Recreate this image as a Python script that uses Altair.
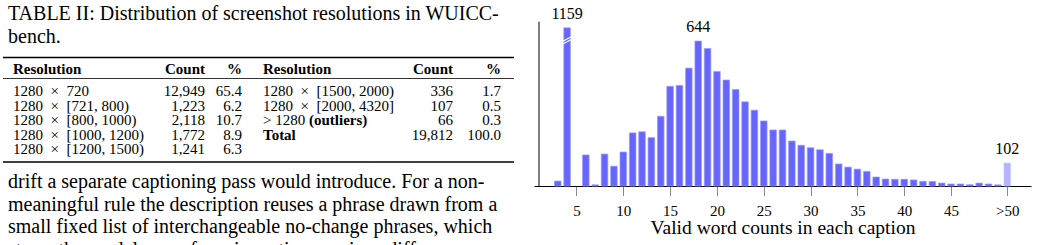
import altair as alt
import pandas as pd

FONT = "Liberation Serif"

# ---------------- chart data ----------------
word_counts = [3, 4, 5, 6, 7, 8, 9, 10, 11, 12, 13, 14, 15, 16, 17, 18, 19, 20,
               21, 22, 23, 24, 25, 26, 27, 28, 29, 30, 31, 32, 33, 34, 35, 36,
               37, 38, 39, 40, 41, 42, 43, 44, 45, 46, 47, 48, 49, 50, 51]
caption_counts = [22, 1159, 0, 138, 5, 142, 88, 151, 236, 241, 215, 310, 443,
                  447, 524, 644, 611, 509, 471, 429, 374, 337, 289, 249, 249,
                  200, 181, 170, 161, 145, 98, 84, 75, 65, 40, 31, 30, 30, 27,
                  21, 20, 13, 9, 9, 6, 13, 9, 5, 102]
labelled_words = [4, 18, 51]
tick_values = [5, 10, 15, 20, 25, 30, 35, 40, 45, 51]
tick_labels = ["5", "10", "15", "20", "25", "30", "35", "40", "45", ">50"]
x_title = "Valid word counts in each caption"
clip_value = 703          # broken bar is drawn up to this height
y_axis_top = 730
y_max = 822
x_domain = [1, 53]
break_x0 = [3.5, 3.5]
break_x1 = [4.55, 4.55]
break_y0 = [630, 642]
break_y1 = [653, 665]

# ---------------- text / table data ----------------
caption_lines = ["TABLE II: Distribution of screenshot resolutions in WUICC-",
                 "bench."]
body_lines = ["drift a separate captioning pass would introduce. For a non-",
              "meaningful rule the description reuses a phrase drawn from a",
              "small fixed list of interchangeable no-change phrases, which",
              "steers the model away from inventing spurious differences"]
header = ["Resolution", "Count", "%"]
TIMES = "\u2002\u00d7\u2002"
left_res = ["1280" + TIMES + "720", "1280" + TIMES + "[721, 800)", "1280" + TIMES + "[800, 1000)",
            "1280" + TIMES + "[1000, 1200)", "1280" + TIMES + "[1200, 1500)"]
left_count = ["12,949", "1,223", "2,118", "1,772", "1,241"]
left_pct = ["65.4", "6.2", "10.7", "8.9", "6.3"]
right_res = ["1280" + TIMES + "[1500, 2000)", "1280" + TIMES + "[2000, 4320]", "> 1280", "Total"]
right_bold = [False, False, False, True]
right_count = ["336", "107", "66", "19,812"]
right_pct = ["1.7", "0.5", "0.3", "100.0"]
outlier_note = "(outliers)"

# ---------------- left panel ----------------
LW, LH = 515, 245
TFS = 15     # table font size
BFS = 20     # body font size

rows = []
for i in range(len(left_res)):
    rows.append({"side": 0, "row": i, "res": left_res[i], "count": left_count[i],
                 "pct": left_pct[i], "bold": False})
for i in range(len(right_res)):
    rows.append({"side": 1, "row": i, "res": right_res[i], "count": right_count[i],
                 "pct": right_pct[i], "bold": right_bold[i]})
tbl = pd.DataFrame(rows)
hdr = pd.DataFrame({"side": [0, 1]})
for k, h in zip(["res", "count", "pct"], header):
    hdr[k] = h
note = pd.DataFrame({"side": [1], "row": [2], "res": [outlier_note]})

row_y = alt.Y("row:Q", scale=alt.Scale(domain=[0, 4], range=[90, 148.4], nice=False), axis=None)


def side_x(r0, r1):
    return alt.X("side:Q", scale=alt.Scale(domain=[0, 1], range=[r0, r1], nice=False), axis=None)


def tmark(align="left", weight="normal", size=TFS, dx=0):
    return dict(align=align, baseline="middle", font=FONT, fontSize=size,
                fontWeight=weight, color="black", dx=dx)


RES_X = (12, 262)
CNT_X = (204, 452)
PCT_X = (241, 500)

res_plain = alt.Chart(tbl).transform_filter("!datum.bold").mark_text(**tmark()).encode(
    x=side_x(*RES_X), y=row_y, text="res:N")
res_bold = alt.Chart(tbl).transform_filter("datum.bold").mark_text(**tmark(weight="bold")).encode(
    x=side_x(*RES_X), y=row_y, text="res:N")
note_l = alt.Chart(note).mark_text(**tmark(weight="bold", dx=46)).encode(
    x=side_x(*RES_X), y=row_y, text="res:N")
cnt = alt.Chart(tbl).mark_text(**tmark(align="right")).encode(
    x=side_x(*CNT_X), y=row_y, text="count:N")
pct = alt.Chart(tbl).mark_text(**tmark(align="right")).encode(
    x=side_x(*PCT_X), y=row_y, text="pct:N")

HDR_Y = 67.5
h_res = alt.Chart(hdr).mark_text(**tmark(weight="bold")).encode(
    x=side_x(*RES_X), y=alt.value(HDR_Y), text="res:N")
h_cnt = alt.Chart(hdr).mark_text(**tmark(align="right", weight="bold")).encode(
    x=side_x(*CNT_X), y=alt.value(HDR_Y), text="count:N")
h_pct = alt.Chart(hdr).mark_text(**tmark(align="right", weight="bold")).encode(
    x=side_x(*PCT_X), y=alt.value(HDR_Y), text="pct:N")


def hrule(y, w):
    return alt.Chart(pd.DataFrame({"a": [0]})).mark_rule(color="black", strokeWidth=w).encode(
        x=alt.value(2), x2=alt.value(513), y=alt.value(y))


rules = [hrule(56.5, 1.4), hrule(77.5, 0.8), hrule(161, 1.4)]

cap_df = pd.DataFrame({"line": list(range(len(caption_lines))), "t": caption_lines})
body_df = pd.DataFrame({"line": list(range(len(body_lines))), "t": body_lines})
cap = alt.Chart(cap_df).mark_text(**tmark(size=BFS)).encode(
    x=alt.value(7),
    y=alt.Y("line:Q", scale=alt.Scale(domain=[0, 1], range=[13, 35.5], nice=False), axis=None),
    text="t:N")
body = alt.Chart(body_df).mark_text(**tmark(size=BFS)).encode(
    x=alt.value(7),
    y=alt.Y("line:Q", scale=alt.Scale(domain=[0, 3], range=[181, 248.5], nice=False), axis=None),
    text="t:N")

left = alt.layer(cap, body, *rules, h_res, h_cnt, h_pct, res_plain, res_bold, note_l, cnt, pct).resolve_scale(
    x="independent", y="independent").properties(width=LW, height=LH)

# ---------------- right panel (bar chart) ----------------
CW, CH = 497, 185
df = pd.DataFrame({"word": word_counts, "count": caption_counts})
base = alt.Chart(df).transform_calculate(shown=f"min(datum.count, {clip_value})")

label_expr = "".join(f"datum.value == {v} ? '{l}' : " for v, l in zip(tick_values, tick_labels)) + "datum.label"

xscale = alt.Scale(domain=x_domain, nice=False, zero=False)
yscale = alt.Scale(domain=[0, y_max], nice=False)

is_over = "datum.word > 50"
bars = base.transform_filter("datum.count > 0").mark_bar(size=6.6, strokeWidth=0.7).encode(
    x=alt.X("word:Q", scale=xscale,
            axis=alt.Axis(values=tick_values, labelExpr=label_expr, title=x_title, grid=False,
                          domainColor="black", domainWidth=1, tickColor="#8a8a8a", tickSize=9.5,
                          tickWidth=1, labelFont=FONT, labelFontSize=15, labelColor="black",
                          labelPadding=8, titleFont=FONT, titleFontSize=19.5,
                          titleFontWeight="normal", titleColor="black", titlePadding=0,
                          labelFlush=False)),
    y=alt.Y("shown:Q", scale=yscale, axis=None),
    fill=alt.condition(is_over, alt.value("#b3b3ff"), alt.value("#6666ff")),
    stroke=alt.condition(is_over, alt.value("#c8c8ff"), alt.value("#9c9cff")),
)

labels = base.transform_filter(alt.FieldOneOfPredicate(field="word", oneOf=labelled_words)).mark_text(
    font=FONT, fontSize=16, baseline="middle", dy=-14, color="black").encode(
    x=alt.X("word:Q", scale=xscale), y=alt.Y("shown:Q", scale=yscale), text="count:Q")

brk_df = pd.DataFrame({"x0": break_x0, "x1": break_x1, "y0": break_y0, "y1": break_y1})
breaks = alt.Chart(brk_df).mark_rule(color="white", strokeWidth=1.2).encode(
    x=alt.X("x0:Q", scale=xscale), x2="x1:Q", y=alt.Y("y0:Q", scale=yscale), y2="y1:Q")

yline_df = pd.DataFrame({"x": [x_domain[0]], "y0": [0], "y1": [y_axis_top]})
yline = alt.Chart(yline_df).mark_rule(color="black", strokeWidth=1).encode(
    x=alt.X("x:Q", scale=xscale), y=alt.Y("y0:Q", scale=yscale), y2="y1:Q")

right = alt.layer(bars, breaks, labels, yline).properties(width=CW, height=CH)

chart = alt.hconcat(left, right, spacing=18, bounds="flush").properties(
    padding=0, background="white").configure_view(stroke="transparent")

chart.save("out.html", embed_options={"renderer": "svg", "actions": False})
